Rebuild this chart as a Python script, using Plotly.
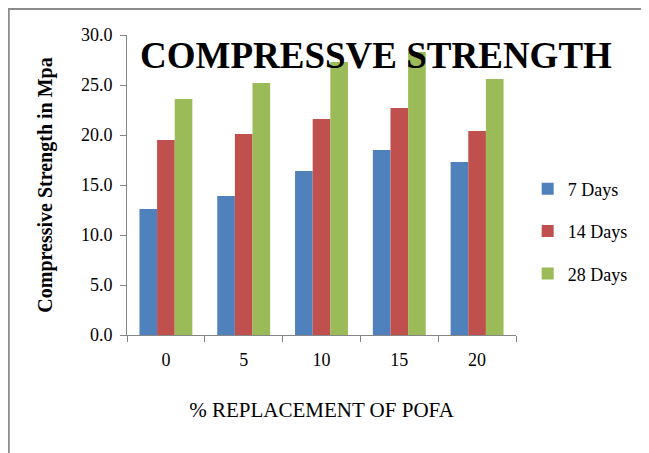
import plotly.graph_objects as go

categories = ["0", "5", "10", "15", "20"]
days7 = [12.6, 13.9, 16.4, 18.5, 17.3]
days14 = [19.5, 20.1, 21.6, 22.7, 20.4]
days28 = [23.6, 25.2, 27.3, 28.3, 25.6]
series_names = ["7 Days", "14 Days", "28 Days"]
colors = ["#4F81BD", "#C0504D", "#9BBB59"]
yticks = [0, 5, 10, 15, 20, 25, 30]

font_family = "Liberation Serif"

L, T, W, H = 119, 27, 389, 300

fig = go.Figure()
for i, (name, vals) in enumerate(zip(series_names, [days7, days14, days28])):
    fig.add_trace(go.Bar(
        x=categories, y=vals, name=name, marker_color=colors[i],
        marker_line_width=0, legendgroup=name,
    ))

fig.update_layout(
    width=649, height=453,
    margin=dict(l=L, r=649 - L - W, t=T, b=453 - T - H),
    paper_bgcolor="white", plot_bgcolor="white",
    barmode="group", bargap=0.32, bargroupgap=0,
    font=dict(family=font_family, size=16, color="black"),
    showlegend=True,
    legend=dict(x=1.03, y=0.345, xanchor="left", yanchor="middle",
                font=dict(size=18, family=font_family), tracegroupgap=16,
                itemwidth=30, bgcolor="rgba(0,0,0,0)"),
    annotations=[dict(text="<b>COMPRESSVE STRENGTH</b>", xref="paper", yref="paper",
                      x=(376 - 127) / 389, y=(335 - 55) / 300, xanchor="center", yanchor="middle",
                      showarrow=False, font=dict(size=37, family=font_family, color="black"))],
    shapes=[
        dict(type="line", xref="paper", yref="paper", x0=-L / W + 0.002, x1=-L / W + 0.002,
             y0=(H + T) / H, y1=-0.5, line=dict(color="#8c8c8c", width=2)),
        dict(type="line", xref="paper", yref="paper", x0=-L / W, x1=1.5,
             y0=(H + T) / H - 0.003, y1=(H + T) / H - 0.003, line=dict(color="#8c8c8c", width=2)),
    ],
)

fig.update_xaxes(
    showline=True, linecolor="#868686", linewidth=1,
    ticks="outside", tickson="boundaries", ticklen=6, tickcolor="#868686",
    tickfont=dict(size=18, family=font_family), ticklabelstandoff=8,
    title=dict(text="% REPLACEMENT OF POFA", font=dict(size=21, family=font_family), standoff=33),
    showgrid=False,
)
fig.update_yaxes(
    range=[0, 30], tickvals=yticks, tickformat=".1f",
    showline=True, linecolor="#868686", linewidth=1,
    ticks="outside", ticklen=6, tickcolor="#868686",
    tickfont=dict(size=18, family=font_family), ticklabelstandoff=4,
    title=dict(text="<b>Compressive Strength in Mpa</b>", font=dict(size=20, family=font_family), standoff=22),
    showgrid=False, zeroline=False,
)

fig.write_html("out.html")
